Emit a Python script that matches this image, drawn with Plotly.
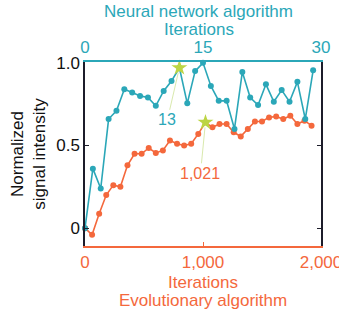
import plotly.graph_objects as go

# Neural network algorithm (top axis, iterations)
nn_iter = [0, 1, 2, 3, 4, 5, 6, 7, 8, 9, 10, 11, 12, 13, 14, 15, 16, 17, 18, 19,
           20, 21, 22, 23, 24, 25, 26, 27, 28, 29]
nn_signal = [0.0, 0.36, 0.24, 0.66, 0.71, 0.84, 0.82, 0.80, 0.79, 0.74, 0.83, 0.89,
             0.97, 0.755, 0.95, 1.0, 0.86, 0.77, 0.77, 0.60, 0.945, 0.79, 0.745,
             0.87, 0.765, 0.835, 0.765, 0.885, 0.66, 0.955]
nn_best_iter = 12
nn_best_signal = 0.97
nn_best_label = "13"

# Evolutionary algorithm (bottom axis, iterations)
ev_iter = [0, 60, 120, 180, 240, 300, 360, 420, 480, 540, 600, 660, 720, 780, 840,
           900, 960, 1021, 1080, 1140, 1200, 1260, 1320, 1380, 1440, 1500, 1560,
           1620, 1680, 1740, 1800, 1860, 1920]
ev_signal = [0.0, -0.04, 0.087, 0.20, 0.26, 0.25, 0.38, 0.45, 0.45, 0.485, 0.455,
             0.47, 0.53, 0.51, 0.50, 0.51, 0.57, 0.64, 0.61, 0.63, 0.63, 0.58,
             0.555, 0.60, 0.645, 0.645, 0.67, 0.675, 0.66, 0.68, 0.63, 0.65, 0.62]
ev_best_iter = 1021
ev_best_signal = 0.64
ev_best_label = "1,021"

y_ticks = [0, 0.5, 1.0]
y_ticktext = ["0", "0.5", "1.0"]
ev_ticks = [0, 1000, 2000]
ev_ticktext = ["0", "1,000", "2,000"]
nn_ticks = [0, 15, 30]
nn_ticktext = ["0", "15", "30"]

CYAN = "#2ba7b8"
ORANGE = "#f4683c"
STAR = "#bcd544"
LEAD = "#d9e9ad"
DARK = "#1c1c2a"
FONT = "Liberation Sans, Arial, sans-serif"
FS = 17

fig = go.Figure()
fig.add_trace(go.Scatter(
    x=ev_iter, y=ev_signal, mode="lines+markers", xaxis="x", yaxis="y",
    line=dict(color=ORANGE, width=1.6), marker=dict(color=ORANGE, size=6),
    showlegend=False, cliponaxis=False))
fig.add_trace(go.Scatter(
    x=nn_iter, y=nn_signal, mode="lines+markers", xaxis="x2", yaxis="y",
    line=dict(color=CYAN, width=1.6), marker=dict(color=CYAN, size=6),
    showlegend=False, cliponaxis=False))
fig.add_trace(go.Scatter(
    x=[ev_best_iter], y=[ev_best_signal], mode="markers", xaxis="x", yaxis="y",
    marker=dict(symbol="star", color=STAR, size=12, line=dict(width=0)),
    showlegend=False, cliponaxis=False))
fig.add_trace(go.Scatter(
    x=[nn_best_iter], y=[nn_best_signal], mode="markers", xaxis="x2", yaxis="y",
    marker=dict(symbol="star", color=STAR, size=12, line=dict(width=0)),
    showlegend=False, cliponaxis=False))
# invisible trace so the right-hand frame axis is rendered
fig.add_trace(go.Scatter(x=[0], y=[0], xaxis="x", yaxis="y2", mode="markers",
                         marker=dict(opacity=0), showlegend=False, hoverinfo="skip"))

fig.add_annotation(x=nn_best_iter, y=nn_best_signal, xref="x2", yref="y",
                   text=nn_best_label, showarrow=True, arrowhead=0, arrowwidth=1,
                   arrowcolor=LEAD, ax=-12, ay=52, standoff=5,
                   font=dict(color=CYAN, size=16, family=FONT))
fig.add_annotation(x=ev_best_iter, y=ev_best_signal, xref="x", yref="y",
                   text=ev_best_label, showarrow=True, arrowhead=0, arrowwidth=1,
                   arrowcolor=LEAD, ax=-5, ay=51, standoff=5,
                   font=dict(color=ORANGE, size=16, family=FONT))

# axis titles as separate lines (tighter line spacing than plotly's titles)
title_lines = [
    ("Neural network algorithm", 0.483, 1.275, CYAN),
    ("Iterations", 0.483, 1.176, CYAN),
    ("Iterations", 0.50, -0.201, ORANGE),
    ("Evolutionary algorithm", 0.50, -0.294, ORANGE),
]
for txt, px, py, col in title_lines:
    fig.add_annotation(text=txt, x=px, y=py, xref="paper", yref="paper",
                       xanchor="center", yanchor="middle", showarrow=False,
                       font=dict(color=col, size=FS, family=FONT))

fig.update_layout(
    width=339, height=310,
    margin=dict(l=85, r=18, t=62, b=64),
    paper_bgcolor="white", plot_bgcolor="white",
    font=dict(family=FONT, size=FS, color="#111"),
    xaxis=dict(range=[0, 2000], tickvals=ev_ticks, ticktext=ev_ticktext,
               showline=True, linecolor=ORANGE, linewidth=1.5, ticks="inside",
               ticklen=4, tickcolor=ORANGE, showgrid=False, zeroline=False,
               automargin=False, ticklabeloverflow="allow",
               tickfont=dict(color=ORANGE, size=FS)),
    xaxis2=dict(range=[0, 30], overlaying="x", side="top", tickvals=nn_ticks,
                ticktext=nn_ticktext, showline=True, linecolor=CYAN, linewidth=1.5,
                ticks="inside", ticklen=4, tickcolor=CYAN, showgrid=False,
                zeroline=False, automargin=False, ticklabeloverflow="allow",
                tickfont=dict(color=CYAN, size=FS)),
    yaxis=dict(range=[-0.108, 1.005], tickvals=y_ticks, ticktext=y_ticktext,
               showline=True, linecolor=DARK, linewidth=1.5,
               ticks="inside", ticklen=4, tickcolor=DARK, showgrid=False,
               zeroline=False, automargin=False, tickfont=dict(size=FS, color="#111"),
               title=dict(text="Normalized<br>signal intensity",
                          font=dict(size=FS, color="#111"), standoff=6)),
    yaxis2=dict(range=[-0.108, 1.005], overlaying="y", side="right",
                tickvals=y_ticks, showticklabels=False, showline=True,
                linecolor=DARK, linewidth=1.5, ticks="inside", ticklen=4,
                tickcolor=DARK, showgrid=False, zeroline=False, automargin=False),
)

fig.write_html("out.html", config={"displayModeBar": False},
               post_script="document.body.style.margin='0';document.body.style.overflow='hidden';")
